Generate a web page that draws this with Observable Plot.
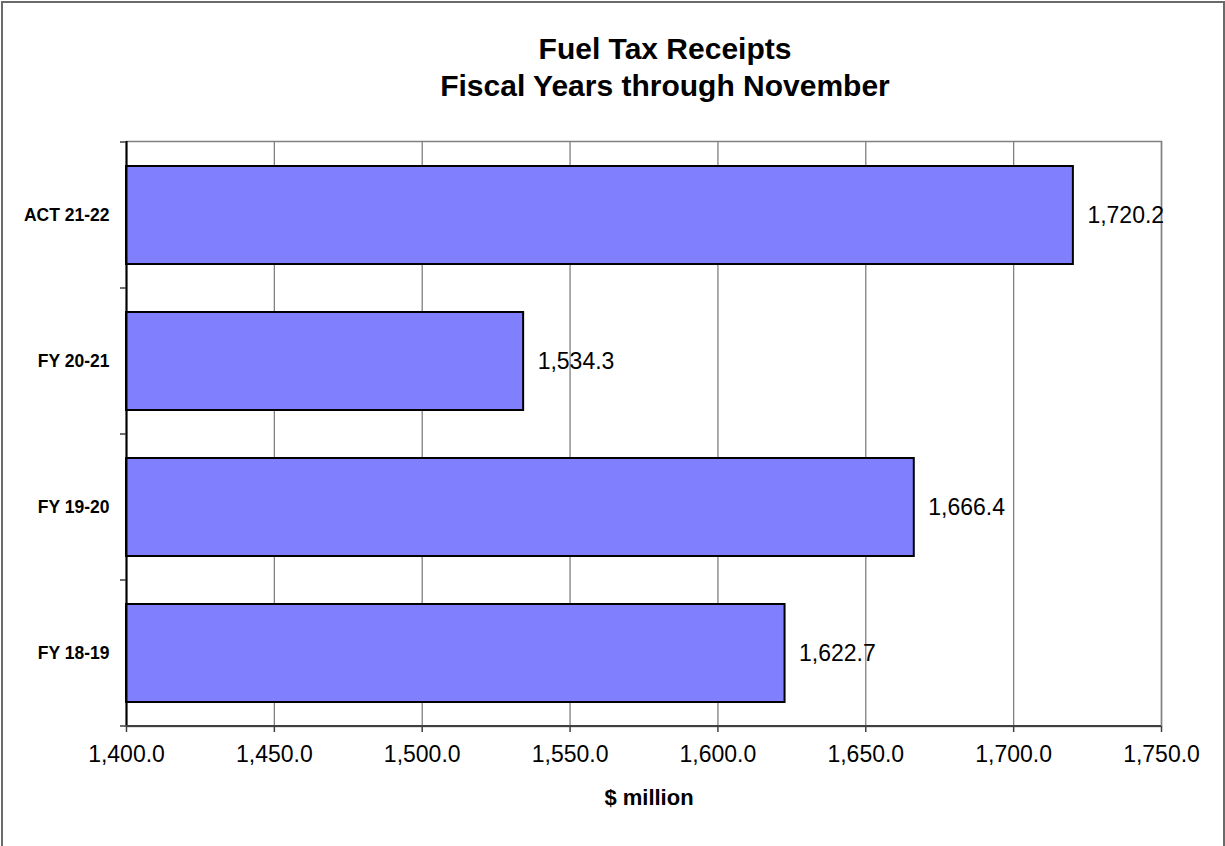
<!DOCTYPE html>
<html>
<head>
<meta charset="utf-8">
<script src="https://cdn.jsdelivr.net/npm/d3@7"></script>
<script src="https://cdn.jsdelivr.net/npm/@observablehq/plot@0.6"></script>
<style>
  html, body { margin: 0; padding: 0; background: #fff; }
  #wrap { position: relative; width: 1225px; height: 846px; overflow: hidden; font-family: "Liberation Sans", Arial, sans-serif; }
  #border { position: absolute; left: 1px; top: 1px; width: 1220px; height: 900px; border: 2px solid #6a6a6a; box-sizing: content-box; }
  #title { position: absolute; left: 265px; width: 800px; top: 30px; text-align: center; font-weight: bold; font-size: 30px; line-height: 37px; color: #000; }
  #xlabel { position: absolute; left: 549px; width: 200px; top: 784px; text-align: center; font-weight: bold; font-size: 22px; line-height: 28px; color: #000; }
  #chart { position: absolute; left: 0; top: 0; }
</style>
</head>
<body>
<div id="wrap">
  <div id="border"></div>
  <div id="chart"></div>
  <div id="title">Fuel Tax Receipts<br>Fiscal Years through November</div>
  <div id="xlabel">$ million</div>
</div>
<script>
// Data
const categories = ["ACT 21-22", "FY 20-21", "FY 19-20", "FY 18-19"];
const values = [1720.2, 1534.3, 1666.4, 1622.7];
const xTicks = [1400, 1450, 1500, 1550, 1600, 1650, 1700, 1750];
const xDomain = [1400, 1750];

const data = categories.map((c, i) => ({cat: c, value: values[i]}));
const fmt = d3.format(",.1f");

const plot = Plot.plot({
  width: 1225,
  height: 846,
  marginLeft: 126,
  marginRight: 64,
  marginTop: 141,
  marginBottom: 120,
  style: {fontFamily: '"Liberation Sans", Arial, sans-serif', color: "#000", background: "transparent", overflow: "visible"},
  x: {domain: xDomain, clamp: true, ticks: xTicks, tickFormat: fmt},
  y: {domain: categories, paddingInner: 0.33, paddingOuter: 0.165},
  marks: [
    Plot.gridX(xTicks, {stroke: "#808080", strokeOpacity: 1, strokeWidth: 1.3}),
    Plot.frame({stroke: "#808080", strokeWidth: 1.5}),
    Plot.barX(data, {y: "cat", x: "value", fill: "#8080FF", stroke: "#000", strokeWidth: 2}),
    Plot.ruleX([xDomain[0]], {stroke: "#000", strokeWidth: 2}),
    Plot.text(data, {y: "cat", x: "value", text: d => fmt(d.value), textAnchor: "start", dx: 14, fontSize: 23, fill: "#000"}),
    Plot.axisX({ticks: xTicks, tickFormat: fmt, tickSize: 6, tickPadding: 13, fontSize: 23, label: null, stroke: "#404040", strokeWidth: 1.5}),
    Plot.axisY({tickSize: 0, tickPadding: 17, fontSize: 17.5, fontWeight: "bold", label: null})
  ]
});

document.getElementById("chart").appendChild(plot);

// Category boundary tick marks and bottom axis line (from the library's scales)
const ys = plot.scale("y");
const xs = plot.scale("x");
const gap = (ys.step - ys.bandwidth) / 2;
const bounds = categories.map(c => ys.apply(c) - gap);
bounds.push(ys.apply(categories[categories.length - 1]) + ys.bandwidth + gap);
const x0 = xs.apply(xDomain[0]);
const x1 = xs.apply(xDomain[1]);
const svg = d3.select(plot);
const g = svg.append("g");
g.selectAll("line.yt").data(bounds).join("line")
  .attr("x1", x0 - 6).attr("x2", x0)
  .attr("y1", d => d).attr("y2", d => d)
  .attr("stroke", "#404040").attr("stroke-width", 1.5);
g.append("line")
  .attr("x1", x0).attr("x2", x1)
  .attr("y1", bounds[bounds.length - 1]).attr("y2", bounds[bounds.length - 1])
  .attr("stroke", "#404040").attr("stroke-width", 2);
</script>
</body>
</html>
